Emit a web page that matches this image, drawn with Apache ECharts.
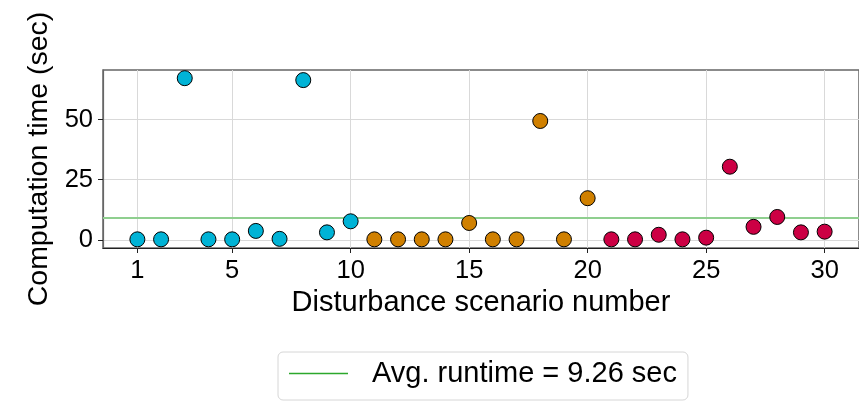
<!DOCTYPE html>
<html>
<head>
<meta charset="utf-8">
<script src="https://cdn.jsdelivr.net/npm/echarts@6/dist/echarts.min.js"></script>
<style>
html,body{margin:0;padding:0;background:#fff;}
#chart{width:859px;height:401px;}
</style>
</head>
<body>
<div id="chart"></div>
<script>
// Scenario groups (scenario numbers) and computation times (sec)
const groupA_scenarios = [1,2,3,4,5,6,7,8,9,10];
const groupA_times = [0.2,0.2,67.2,0.2,0.2,3.7,0.4,66.4,3.1,7.7];
const groupB_scenarios = [11,12,13,14,15,16,17,18,19,20];
const groupB_times = [0.2,0.2,0.2,0.2,7.0,0.2,0.2,49.4,0.2,17.3];
const groupC_scenarios = [21,22,23,24,25,26,27,28,29,30];
const groupC_times = [0.2,0.2,2.1,0.2,0.9,30.4,5.4,9.5,3.1,3.4];
const avgRuntime = 9.26;
const avgLabel = 'Avg. runtime = 9.26 sec';
const xTicks = [1,5,10,15,20,25,30];
const yTicks = [0,25,50];

const FONT = 'Liberation Sans, Arial, sans-serif';
const colors = ['#00b3d6', '#d08000', '#cc0044'];

function pairs(xs, ys){ return xs.map((x,i)=>[x, ys[i]]); }

function scatter(name, xs, ys, color){
  return {
    type: 'scatter', name: name, symbol: 'circle', symbolSize: 15, z: 5,
    data: pairs(xs, ys),
    itemStyle: {color: color, opacity: 1, borderColor: '#000', borderWidth: 1}
  };
}

const chart = echarts.init(document.getElementById('chart'), null, {renderer:'canvas'});
chart.setOption({
  animation: false,
  backgroundColor: '#fff',
  grid: {
    left: 103, top: 70, width: 762, height: 178,
    show: true, borderColor: '#666', borderWidth: 1.5, backgroundColor: 'transparent',
    containLabel: false
  },
  xAxis: {
    type: 'value', min: -0.45, max: 31.45,
    name: 'Disturbance scenario number', nameLocation: 'middle', nameGap: 40,
    nameTextStyle: {fontFamily: FONT, fontSize: 29, color: '#000'},
    axisLine: {show: true, onZero: false, lineStyle: {color: '#222', width: 1.2}},
    axisTick: {show: true, length: 5, customValues: xTicks, lineStyle: {color: '#222'}},
    axisLabel: {customValues: xTicks, margin: 10, fontFamily: FONT, fontSize: 25.5, color: '#000'},
    splitLine: {show: true, lineStyle: {color: '#d9d9d9', width: 1}}
  },
  yAxis: {
    type: 'value', min: -3.4, max: 70.6,
    name: 'Computation time (sec)', nameLocation: 'middle', nameGap: 47,
    nameTextStyle: {fontFamily: FONT, fontSize: 28.5, color: '#000'},
    axisLine: {show: true, onZero: false, lineStyle: {color: '#666', width: 1.2}},
    axisTick: {show: true, length: 5, customValues: yTicks, lineStyle: {color: '#222'}},
    axisLabel: {customValues: yTicks, margin: 10, fontFamily: FONT, fontSize: 25.5, color: '#000'},
    splitLine: {show: true, lineStyle: {color: '#d9d9d9', width: 1}}
  },
  legend: {
    show: true,
    left: 278, top: 352,
    padding: [7, 11, 12, 11],
    borderColor: '#d6d6d6', borderWidth: 1, borderRadius: 5,
    itemWidth: 59, itemHeight: 1.5,
    textStyle: {fontFamily: FONT, fontSize: 29, color: '#000', padding: [0,0,0,19]},
    data: [{name: avgLabel, icon: 'rect', itemStyle: {color: '#2ca82c', borderWidth: 0}}]
  },
  series: [
    scatter('A', groupA_scenarios, groupA_times, colors[0]),
    scatter('B', groupB_scenarios, groupB_times, colors[1]),
    scatter('C', groupC_scenarios, groupC_times, colors[2]),
    {
      name: avgLabel, type: 'line', data: [], symbol: 'none', showSymbol: false,
      itemStyle: {color: '#2ca82c'}, lineStyle: {color: '#2ca82c', width: 1},
      markLine: {
        silent: true, symbol: ['none','none'], label: {show: false},
        lineStyle: {color: '#8fcf8f', width: 2, type: 'solid'},
        data: [{yAxis: avgRuntime}]
      },
      z: 3
    }
  ]
});
</script>
</body>
</html>
